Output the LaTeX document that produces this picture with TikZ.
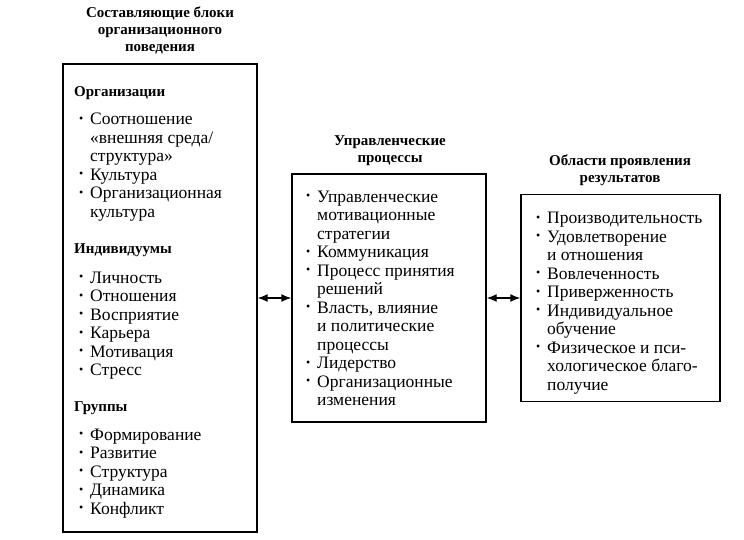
\documentclass[tikz,border=0pt]{standalone}
\usepackage{fontspec}
\setmainfont{Liberation Serif}
\usetikzlibrary{arrows.meta,positioning}

% bullet and continuation indent for the lists
\newcommand{\itm}{\strut\makebox[11pt][l]{\raisebox{0.15em}{\fontsize{12}{12}\selectfont\textbullet}}}
\newcommand{\cnt}{\strut\hspace*{11pt}}

\begin{document}
\begin{tikzpicture}[x=1pt, y=-1pt,
  frame/.style={rectangle, draw, line width=1.4pt, inner sep=0pt, minimum width=#1},
  title/.style={font=\fontsize{15}{17}\selectfont\bfseries, align=center, anchor=north, inner sep=0pt},
  subhead/.style={font=\fontsize{15}{18}\selectfont\bfseries, anchor=base west, inner sep=0pt},
  items/.style={font=\fontsize{17.5}{18.5}\selectfont, align=left, anchor=north west, inner sep=0pt},
  arr/.style={{Latex[length=10pt,width=8pt]}-{Latex[length=10pt,width=8pt]}, line width=1.4pt}
]
  \useasboundingbox (0,0) rectangle (744,540);

  % three blocks
  \node[frame=194pt, minimum height=468pt] (blocks) at (160,298) {};
  \node[frame=194pt, minimum height=248pt] (procs) at (389,298) {};
  \node[frame=199pt, minimum height=207pt] (results) at (620.5,298) {};

  \node[title] (t1) at (160,5.6) {\strut Составляющие блоки\\\strut организационного\\\strut поведения};
  \node[title] (t2) at (390,133.6) {\strut Управленческие\\\strut процессы};
  \node[title] (t3) at (620,153.6) {\strut Области проявления\\\strut результатов};

  % left block
  \node[subhead] (org) at (74,97) {Организации};
  \node[items] (orgl) at (79,111.5) {\itm Соотношение\\\cnt «внешняя среда/\\\cnt структура»\\\itm Культура\\\itm Организационная\\\cnt культура};
  \node[subhead] (ind) at (74,253) {Индивидуумы};
  \node[items] (indl) at (79,270) {\itm Личность\\\itm Отношения\\\itm Восприятие\\\itm Карьера\\\itm Мотивация\\\itm Стресс};
  \node[subhead] (grp) at (74,411) {Группы};
  \node[items] (grpl) at (79,427) {\itm Формирование\\\itm Развитие\\\itm Структура\\\itm Динамика\\\itm Конфликт};

  % middle block
  \node[items] (procl) at (306,189) {\itm Управленческие\\\cnt мотивационные\\\cnt стратегии\\\itm Коммуникация\\\itm Процесс принятия\\\cnt решений\\\itm Власть, влияние\\\cnt и политические\\\cnt процессы\\\itm Лидерство\\\itm Организационные\\\cnt изменения};

  % right block
  \node[items] (resl) at (536,210.5) {\itm Производительность\\\itm Удовлетворение\\\cnt и отношения\\\itm Вовлеченность\\\itm Приверженность\\\itm Индивидуальное\\\cnt обучение\\\itm Физическое и пси-\\\cnt хологическое благо-\\\cnt получие};

  \draw[arr] (blocks.east) -- (procs.west);
  \draw[arr] (procs.east) -- (results.west);
\end{tikzpicture}
\end{document}
